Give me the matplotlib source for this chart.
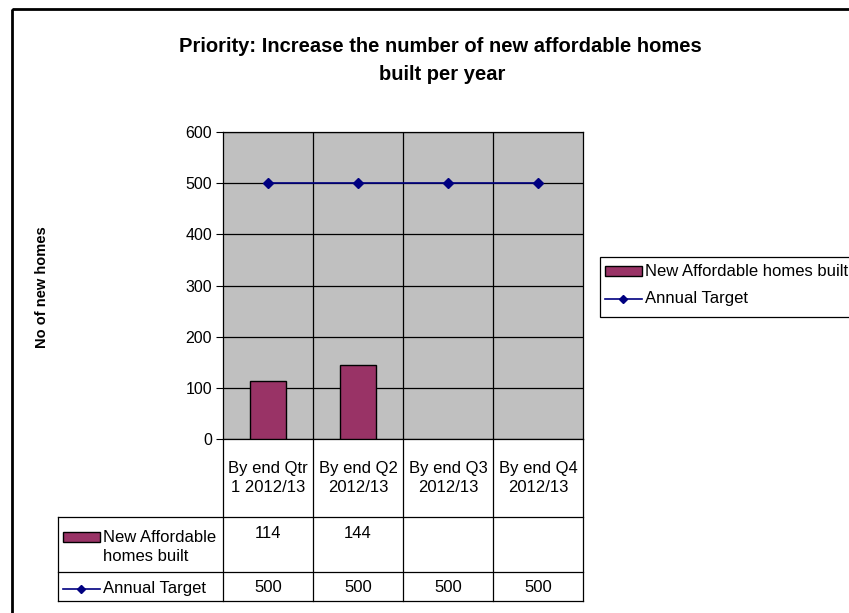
import numpy as np
import matplotlib
matplotlib.use("Agg")
import matplotlib.pyplot as plt
from matplotlib.patches import Rectangle
from matplotlib.lines import Line2D

plt.rcParams['font.family'] = ['Liberation Sans', 'DejaVu Sans']

categories = ["By end Qtr\n1 2012/13", "By end Q2\n2012/13",
              "By end Q3\n2012/13", "By end Q4\n2012/13"]
homes_built = [114, 144, np.nan, np.nan]
annual_target = [500, 500, 500, 500]
built_label = "New Affordable homes built"
target_label = "Annual Target"

bar_col = "#993366"
line_col = "#000080"

W, H = 849, 613
fig = plt.figure(figsize=(W / 100, H / 100), dpi=100)

# overlay in pixel units for frame, title, table and legend
ov = fig.add_axes([0, 0, 1, 1])
ov.set_xlim(0, W)
ov.set_ylim(H, 0)
ov.axis("off")

# plot area in pixels
px0, px1 = 223, 583
py0, py1 = 132, 439
ax = fig.add_axes([px0 / W, 1 - py1 / H, (px1 - px0) / W, (py1 - py0) / H])
ax.set_facecolor("#C0C0C0")

x = np.arange(len(categories))
built = np.array(homes_built, dtype=float)
ok = ~np.isnan(built)
ax.bar(x[ok], built[ok], width=0.41, color=bar_col, edgecolor="black",
       linewidth=1, zorder=3)
ax.plot(x, annual_target, color=line_col, marker="D", markersize=5,
        linewidth=1.2, zorder=4)

ax.set_xlim(-0.5, len(categories) - 0.5)
ax.set_ylim(0, 600)
ax.set_yticks(range(0, 601, 100))
ax.tick_params(axis="y", labelsize=11.5, length=5, direction="out", pad=3)
ax.set_xticks([])
ax.grid(axis="y", color="black", linewidth=0.9, zorder=1)
for b in np.arange(0.5, len(categories) - 0.5):
    ax.axvline(b, color="black", linewidth=0.9, zorder=1)
for s in ax.spines.values():
    s.set_linewidth(0.9)

ov.text(42, 287, "No of new homes", rotation=90, ha="center", va="center",
        fontsize=10.5, fontweight="bold")

# title, two centred lines
ov.text(440, 47, "Priority: Increase the number of new affordable homes",
        ha="center", va="center", fontsize=14.5, fontweight="bold")
ov.text(442, 74, "built per year", ha="center", va="center",
        fontsize=14.5, fontweight="bold")

# outer frame
ov.add_patch(Rectangle((12, 9), W, H, fill=False, edgecolor="black",
                       linewidth=2))

# data table under the plot
col_w = (px1 - px0) / len(categories)
edges = [px0 + i * col_w for i in range(len(categories) + 1)]
centers = [px0 + (i + 0.5) * col_w for i in range(len(categories))]
t_left, r0, r1, r2 = 58, 517, 572, 601
lk = dict(color="black", linewidth=0.9)
for e in edges:
    ov.add_line(Line2D([e, e], [py1, r2], **lk))
ov.add_line(Line2D([t_left, t_left], [r0, r2], **lk))
for r in (r0, r1, r2):
    ov.add_line(Line2D([t_left, px1], [r, r], **lk))

fs = 12
for c, lab in zip(centers, categories):
    ov.text(c, 478, lab, ha="center", va="center", fontsize=fs,
            linespacing=1.35)

ov.add_patch(Rectangle((63, 532), 37, 10, facecolor=bar_col,
                       edgecolor="black", linewidth=1))
ov.text(103, 547, "New Affordable\nhomes built", ha="left", va="center",
        fontsize=fs, linespacing=1.35)
ov.plot([63, 100], [589, 589], color=line_col, linewidth=1.2)
ov.plot([81], [589], color=line_col, marker="D", markersize=4.5)
ov.text(103, 588, target_label, ha="left", va="center", fontsize=fs)

for c, v in zip(centers, homes_built):
    if not np.isnan(v):
        ov.text(c, 533, f"{v:g}", ha="center", va="center", fontsize=fs)
for c, v in zip(centers, annual_target):
    ov.text(c, 588, f"{v:g}", ha="center", va="center", fontsize=fs)

# legend box on the right
ov.add_patch(Rectangle((600, 257), 300, 60, facecolor="white",
                       edgecolor="black", linewidth=0.9))
ov.add_patch(Rectangle((605, 266), 37, 10, facecolor=bar_col,
                       edgecolor="black", linewidth=1))
ov.text(645, 272, built_label, ha="left", va="center", fontsize=fs)
ov.plot([605, 642], [299, 299], color=line_col, linewidth=1.2)
ov.plot([623], [299], color=line_col, marker="D", markersize=4.5)
ov.text(645, 298, target_label, ha="left", va="center", fontsize=fs)

fig.savefig("out.png", dpi=100)
